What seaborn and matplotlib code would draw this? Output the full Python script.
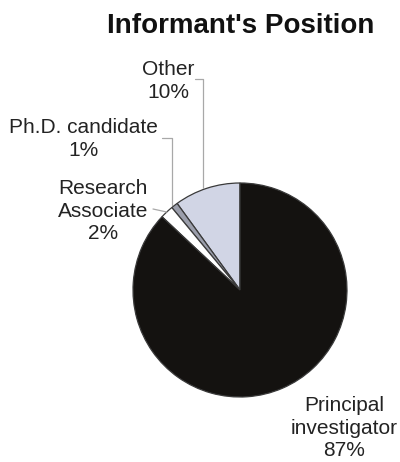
import numpy as np
import matplotlib
matplotlib.use("Agg")
import matplotlib.pyplot as plt
import seaborn as sns

# ---- data ----
categories = ["Other", "Ph.D. candidate", "Research\nAssociate", "Principal\ninvestigator"]
percent = [10, 1, 2, 87]
colors = ["#d1d5e5", "#9b9eab", "#ffffff", "#141210"]
title = "Informant's Position"

sns.set_theme(style="white")
plt.rcParams["font.family"] = ["Liberation Sans", "DejaVu Sans"]

R = 107.0  # pixels per data unit (pie radius)
cx, cy = 240.0, 290.0


def px(x, y):
    return ((x - cx) / R, (cy - y) / R)


fig = plt.figure(figsize=(4, 4.62), dpi=100)
ax = fig.add_axes([0, 0, 1, 1])
wedges, _ = ax.pie(percent, colors=colors, startangle=90, counterclock=True,
                   radius=1, center=(0, 0),
                   wedgeprops=dict(edgecolor="#3a3a3a", linewidth=0.9))
ax.set_xlim(-cx / R, (400 - cx) / R)
ax.set_ylim(-(462 - cy) / R, cy / R)
ax.axis("off")

txtc = "#232323"
fs = 15
labels = [f"{c}\n{p}%" for c, p in zip(categories, percent)]
label_pos = [px(168, 81), px(83, 139), px(103, 211), px(344, 428)]
for lab, (lx, ly) in zip(labels, label_pos):
    ax.text(lx, ly, lab, ha="center", va="center", fontsize=fs, color=txtc,
            linespacing=1.22)

ax.text(*px(241, 26), title, ha="center", va="center", fontsize=20,
        fontweight="bold", color="#111111")

# leader lines
mids = []
for w in wedges:
    a = np.deg2rad((w.theta1 + w.theta2) / 2)
    mids.append((np.cos(a), np.sin(a)))
lc = "#a8a8a8"
# Other
ax_, ay_ = mids[0]
sx, sy = px(195, 79)
ax.plot([sx, ax_ - 0.04, ax_ - 0.04], [sy, sy, ay_], color=lc, lw=0.9)
# Ph.D.
ax_, ay_ = mids[1]
sx, sy = px(162, 138)
ax.plot([sx, ax_ - 0.02, ax_ - 0.02], [sy, sy, ay_], color=lc, lw=0.9)
# Research Associate
ax_, ay_ = mids[2]
sx, sy = px(153, 209)
ax.plot([sx, ax_], [sy, ay_], color=lc, lw=0.9)

fig.savefig("out.png", dpi=100)
